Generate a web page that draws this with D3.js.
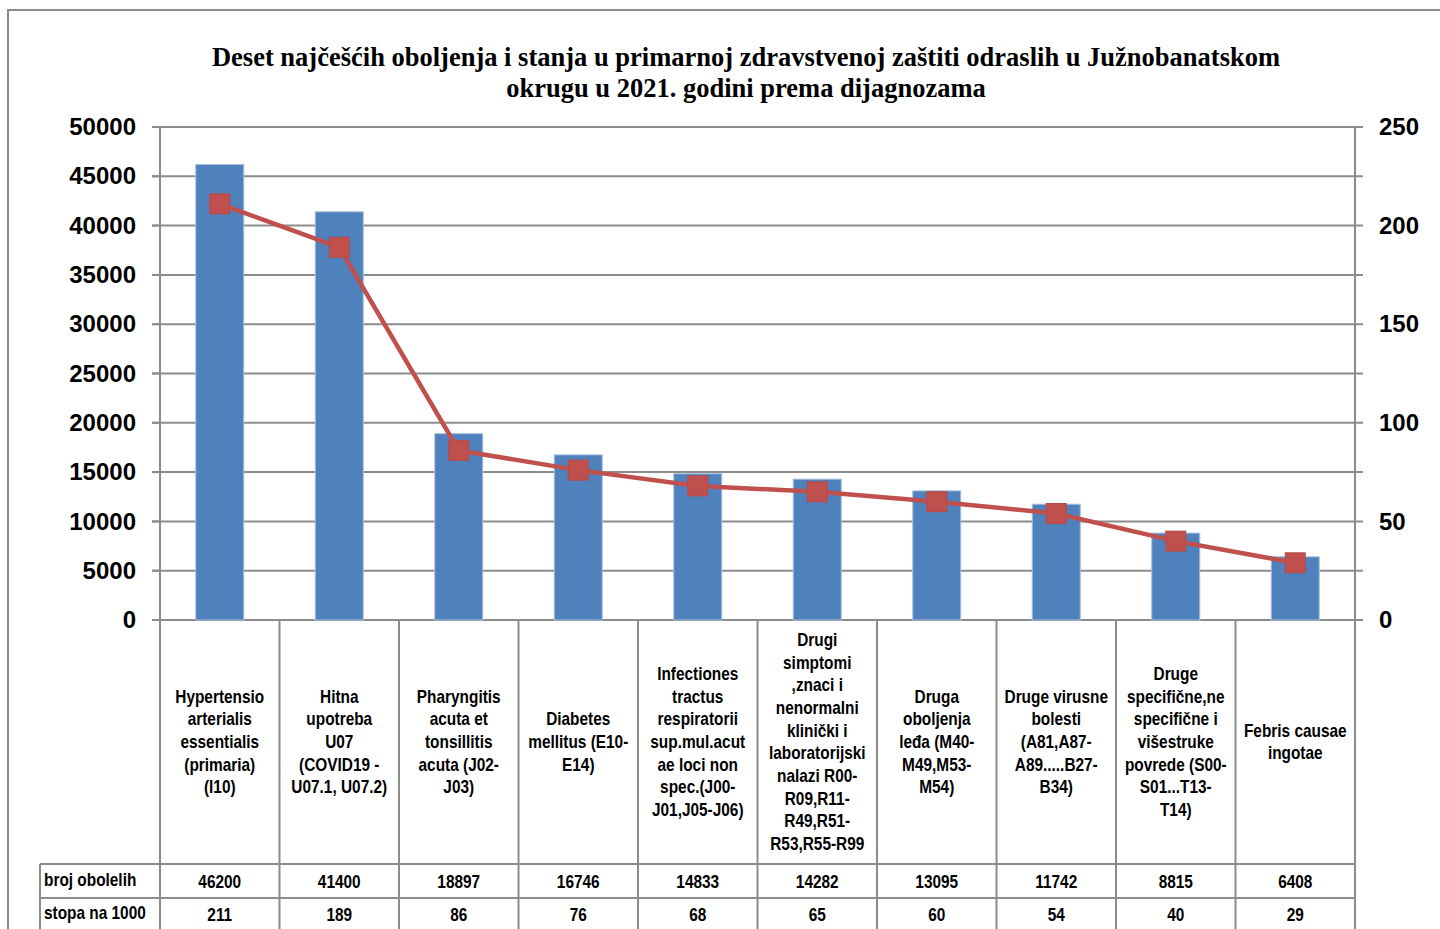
<!DOCTYPE html>
<html><head><meta charset="utf-8">
<script src="https://cdn.jsdelivr.net/npm/d3@7"></script>
<style>
html,body{margin:0;padding:0;background:#fff;overflow:hidden}
svg{display:block}
</style></head>
<body>
<svg id="c" width="1440" height="929"></svg>
<script>
const titleLines = ["Deset najčešćih oboljenja i stanja u primarnoj zdravstvenoj zaštiti odraslih u Južnobanatskom","okrugu u 2021. godini prema dijagnozama"];
const categories = [
 ["Hypertensio","arterialis","essentialis","(primaria)","(I10)"],
 ["Hitna","upotreba","U07","(COVID19 -","U07.1, U07.2)"],
 ["Pharyngitis","acuta et","tonsillitis","acuta (J02-","J03)"],
 ["Diabetes","mellitus (E10-","E14)"],
 ["Infectiones","tractus","respiratorii","sup.mul.acut","ae loci non","spec.(J00-","J01,J05-J06)"],
 ["Drugi","simptomi",",znaci i","nenormalni","klinički i","laboratorijski","nalazi R00-","R09,R11-","R49,R51-","R53,R55-R99"],
 ["Druga","oboljenja","leđa (M40-","M49,M53-","M54)"],
 ["Druge virusne","bolesti","(A81,A87-","A89.....B27-","B34)"],
 ["Druge","specifične,ne","specifične i","višestruke","povrede (S00-","S01...T13-","T14)"],
 ["Febris causae","ingotae"]
];
const cases = [46200,41400,18897,16746,14833,14282,13095,11742,8815,6408];
const rates = [211,189,86,76,68,65,60,54,40,29];
const seriesNames = ["broj obolelih","stopa na 1000"];
const leftTicks = [0,5000,10000,15000,20000,25000,30000,35000,40000,45000,50000];
const rightTicks = [0,50,100,150,200,250];

const svg = d3.select("#c");
const L=160,R=1355,T=127,B=620;
const grid="#8c8c8c";
const x = d3.scaleBand().domain(d3.range(categories.length)).range([L,R]);
const yL = d3.scaleLinear().domain([0,50000]).range([B,T]);
const yR = d3.scaleLinear().domain([0,250]).range([B,T]);

// outer border
svg.append("rect").attr("x",8).attr("y",10).attr("width",1480).attr("height",960)
 .attr("fill","none").attr("stroke","#8a8a8a").attr("stroke-width",2);

// title
const tt = svg.append("text").attr("text-anchor","middle")
 .attr("font-family","'Liberation Serif','Times New Roman',serif").attr("font-weight","bold").attr("font-size",26.5).attr("fill","#000");
titleLines.forEach((t,i)=>tt.append("tspan").attr("x",746).attr("y",66+i*31).text(t));

// gridlines
svg.append("g").selectAll("line").data(leftTicks).join("line")
 .attr("x1",L-8).attr("x2",R+8).attr("y1",d=>yL(d)).attr("y2",d=>yL(d))
 .attr("stroke",grid).attr("stroke-width",2);

// axes
const axL = svg.append("g").attr("transform",`translate(${L},0)`).call(d3.axisLeft(yL).tickValues(leftTicks).tickSize(0).tickPadding(24).tickFormat(d3.format("d")));
axL.select(".domain").remove();
axL.selectAll("text").attr("font-family","'Liberation Sans',Arial,sans-serif").attr("font-weight","bold").attr("font-size",24).attr("fill","#000");
const axR = svg.append("g").attr("transform",`translate(${R},0)`).call(d3.axisRight(yR).tickValues(rightTicks).tickSize(0).tickPadding(24).tickFormat(d3.format("d")));
axR.select(".domain").remove();
axR.selectAll("text").attr("font-family","'Liberation Sans',Arial,sans-serif").attr("font-weight","bold").attr("font-size",24).attr("fill","#000");

// bars
const bw=48;
svg.append("g").selectAll("rect").data(cases).join("rect")
 .attr("x",(d,i)=>x(i)+x.bandwidth()/2-bw/2).attr("width",bw)
 .attr("y",d=>yL(d)).attr("height",d=>B-yL(d))
 .attr("fill","#4f81bd").attr("stroke","#a7c0de").attr("stroke-width",1);

// line
const line = d3.line().x((d,i)=>x(i)+x.bandwidth()/2).y(d=>yR(d));
svg.append("path").datum(rates).attr("d",line).attr("fill","none").attr("stroke","#c0504d").attr("stroke-width",4.5);
svg.append("g").selectAll("rect").data(rates).join("rect")
 .attr("x",(d,i)=>x(i)+x.bandwidth()/2-10).attr("y",d=>yR(d)-10).attr("width",20).attr("height",20)
 .attr("fill","#c0504d").attr("stroke","#b84a47").attr("stroke-width",1);

// table
const tg = svg.append("g");
const r0=B, r1=864, r2=898, r3=935, labL=40;
const fam="'Liberation Sans',Arial,sans-serif";
const sx=0.88, fs=17.5;
const xs = d3.range(categories.length+1).map(i=> i<categories.length? x(i): R);
tg.selectAll("line.v").data(xs).join("line").attr("class","v")
 .attr("x1",d=>d).attr("x2",d=>d).attr("y2",r3)
 .attr("stroke",grid).attr("stroke-width",2)
 .attr("y1",(d,i)=> (i===0||i===xs.length-1)? T : r0);
tg.append("line").attr("x1",labL).attr("x2",labL).attr("y1",r1).attr("y2",r3).attr("stroke",grid).attr("stroke-width",2);
[r1,r2].forEach(y=>tg.append("line").attr("x1",labL).attr("x2",R).attr("y1",y).attr("y2",y).attr("stroke",grid).attr("stroke-width",2));
function ctext(cx, anchor){
  return tg.append("g").attr("transform",`translate(${cx},0) scale(${sx},1)`)
   .append("text").attr("text-anchor",anchor).attr("font-family",fam).attr("font-weight","bold").attr("font-size",fs).attr("fill","#000");
}
categories.forEach((lines,i)=>{
  const cx = x(i)+x.bandwidth()/2;
  const lh=22.7, mid=(r0+r1)/2;
  const t = ctext(cx,"middle");
  lines.forEach((s,j)=>t.append("tspan").attr("x",0).attr("y",mid+(j-(lines.length-1)/2)*lh+6).text(s));
});
[cases,rates].forEach((arr,k)=>{
  const yMid = k===0? (r1+r2)/2 : (r2+r3)/2 - 2;
  ctext(44,"start").attr("x",0).attr("y",yMid+5).text(seriesNames[k]);
  arr.forEach((d,i)=>ctext(x(i)+x.bandwidth()/2,"middle").attr("x",0).attr("y",yMid+7).text(d));
});
svg.append("g").selectAll("line").data(leftTicks).join("line")
 .attr("x1",L-8).attr("x2",L).attr("y1",d=>yL(d)).attr("y2",d=>yL(d)).attr("stroke",grid).attr("stroke-width",2);
</script>
</body></html>
